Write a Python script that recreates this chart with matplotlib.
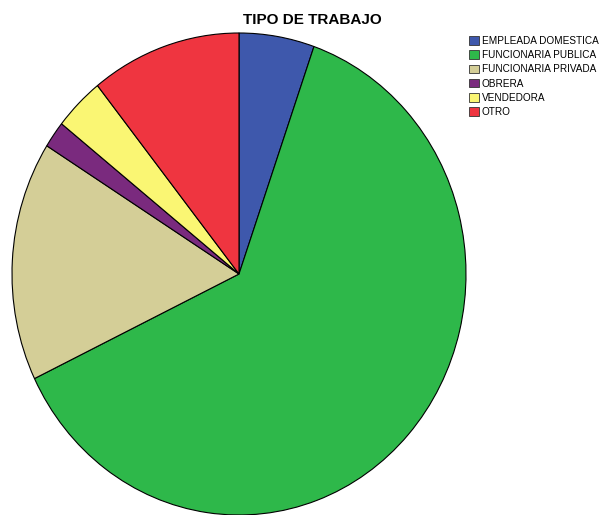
import matplotlib
matplotlib.use("Agg")
import matplotlib.pyplot as plt

# frequencies (N = 56)
categories = ["EMPLEADA DOMESTICA", "FUNCIONARIA PUBLICA", "FUNCIONARIA PRIVADA",
              "OBRERA", "VENDEDORA", "OTRO"]
counts = [3, 35, 9, 1, 2, 6]
colors = ["#3E58AC", "#2EB84A", "#D4CE97", "#7A2A7E", "#FAF673", "#EF3540"]

plt.rcParams["font.family"] = ["Liberation Sans", "DejaVu Sans"]

W, H = 599, 515
fig = plt.figure(figsize=(W / 100, H / 100), dpi=100)

# pie is drawn slightly stretched vertically, as in the reference
ax = fig.add_axes([12 / W, 0 / H, 454 / W, 482 / H])
wedges, _ = ax.pie(counts, colors=colors, startangle=90, counterclock=False,
                   radius=1.0,
                   wedgeprops=dict(edgecolor="black", linewidth=0.8))
ax.set_aspect("auto")
ax.set_xlim(-1, 1)
ax.set_ylim(-1, 1)
ax.axis("off")

fig.text(312 / W, 1 - 20 / H, "TIPO DE TRABAJO", ha="center", va="center",
         fontsize=11, fontweight="bold")

leg = fig.legend(wedges, categories, loc="upper left",
                 bbox_to_anchor=(469 / W, 1 - 36 / H), frameon=False,
                 fontsize=7.2, handlelength=0.95, handleheight=0.95,
                 handletextpad=0.3, labelspacing=0.42, borderpad=0,
                 borderaxespad=0)
for h in leg.legend_handles:
    h.set_edgecolor("#333333")
    h.set_linewidth(0.6)

fig.savefig("out.png", dpi=100)
